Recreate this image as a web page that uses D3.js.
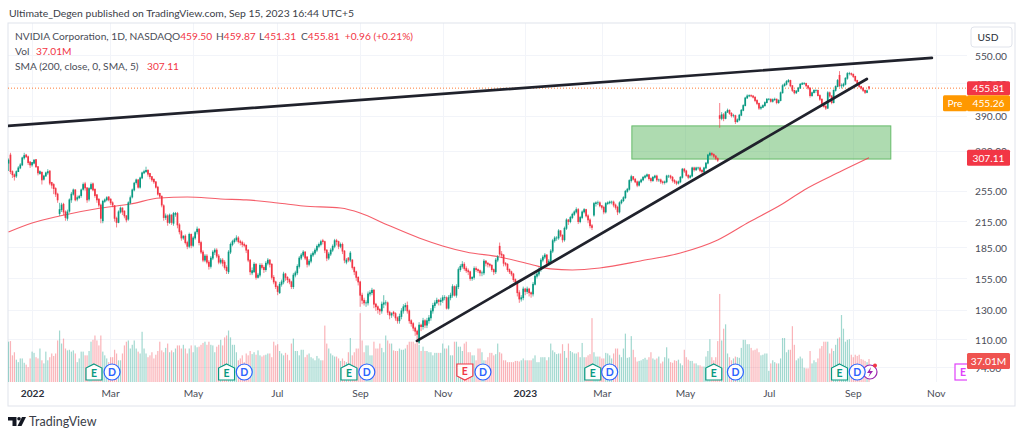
<!DOCTYPE html>
<html><head><meta charset="utf-8">
<script src="https://cdnjs.cloudflare.com/ajax/libs/d3/7.8.5/d3.min.js"></script>
<style>html,body{margin:0;padding:0;background:#fff}svg{display:block}text{font-family:Lato,sans-serif}</style>
</head><body><svg id="c" width="1024" height="437"></svg>
<script>
const opens=[
298,312,284,279,277,284,290,295,307,312,
309,300,295,298,304,292,281,283,272,277,
282,285,267,264,258,250,224,229,236,226,
218,227,242,250,256,243,245,248,257,265,
259,243,258,265,257,249,243,235,215,240,
242,246,243,238,234,218,213,226,231,227,
221,217,238,246,256,267,271,260,274,282,
284,286,281,276,272,268,260,251,247,234,
219,221,213,222,212,223,224,210,202,195,
197,190,186,199,187,195,202,205,190,180,
172,176,170,166,174,180,182,176,170,172,
170,165,161,180,188,191,193,195,191,190,
188,187,182,172,160,161,168,156,158,167,
165,163,169,172,168,156,152,148,143,150,
152,159,156,154,152,148,158,160,166,174,
177,180,175,168,171,177,179,182,186,188,
192,191,182,174,178,182,186,192,191,186,
188,181,170,174,172,172,165,161,156,152,
141,137,135,135,142,143,145,134,132,130,
129,134,135,135,128,126,128,127,124,122,
125,129,132,133,129,122,120,117,115,108,
119,118,122,119,122,124,129,133,135,137,
136,137,139,139,131,139,141,148,141,148,
163,166,168,164,162,161,155,156,164,163,
162,160,160,171,169,168,167,163,161,172,
186,178,177,169,168,163,161,159,154,152,
143,138,139,146,144,146,143,142,150,157,
159,163,172,175,177,169,171,181,192,195,
195,203,198,193,206,216,214,219,223,226,
229,214,219,226,229,221,216,209,222,237,
238,238,234,232,226,237,238,239,239,235,
232,226,238,241,245,254,257,270,276,272,
268,263,268,271,275,277,279,273,270,275,
277,271,271,268,267,268,277,277,275,270,
268,266,268,275,288,285,278,275,277,290,
287,290,290,286,284,290,298,312,315,313,
310,306,390,384,392,384,398,402,395,390,
390,377,381,391,402,413,431,436,437,436,
433,425,418,407,409,413,420,428,428,423,
427,428,420,425,444,462,466,473,476,462,
450,444,448,456,466,468,468,462,456,437,
444,450,450,437,428,418,411,407,444,436,
420,450,460,490,462,462,466,482,495,495,
493,487,476,468,460,456,450,445,459.50];
const closes=[
303,284,279,276,284,290,295,307,311,309,
299,295,299,303,292,282,284,271,277,282,
284,266,263,258,250,242,229,235,226,219,
226,242,250,256,242,245,247,256,264,259,
242,258,264,256,248,242,235,218,240,242,
245,242,238,235,218,213,226,231,226,221,
216,238,245,256,266,271,260,274,282,284,
286,280,276,271,268,260,250,247,235,219,
221,213,222,213,224,224,210,202,195,197,
190,186,199,187,195,201,205,190,180,172,
176,170,166,174,180,182,176,170,172,169,
165,162,180,188,191,193,195,191,190,188,
187,182,172,161,162,168,156,158,167,165,
163,169,172,168,156,152,148,144,150,152,
159,156,154,152,148,158,160,166,174,177,
180,174,168,171,177,179,182,186,188,191,
191,182,174,178,182,186,192,191,186,188,
181,172,172,172,179,165,161,156,152,141,
137,135,135,142,143,145,134,132,130,129,
134,135,135,128,126,127,127,124,122,125,
129,132,133,129,122,120,117,115,113,119,
118,122,119,122,124,129,133,135,137,136,
137,139,139,131,139,141,148,141,148,163,
166,168,164,162,161,155,156,164,163,162,
160,160,171,169,168,167,163,161,172,175,
178,177,169,168,163,161,159,154,152,143,
138,139,146,144,146,143,142,150,157,159,
163,172,175,177,169,171,181,192,195,195,
203,198,193,206,216,214,219,223,226,229,
214,219,226,229,221,216,209,207,237,238,
238,234,232,226,237,238,239,239,235,232,
226,238,241,245,254,257,270,276,272,268,
263,268,271,275,277,279,273,270,275,277,
271,271,268,267,268,277,277,275,270,268,
266,268,275,288,285,278,275,277,290,287,
290,290,286,284,290,298,312,315,313,310,
306,303,384,392,384,398,402,395,390,390,
377,381,391,402,413,431,436,437,436,433,
425,418,407,409,413,420,428,428,423,427,
428,420,425,444,462,466,473,476,462,450,
444,448,456,466,468,468,462,456,437,444,
450,450,437,428,418,411,407,444,436,420,
450,460,476,462,462,466,482,495,495,493,
487,476,468,460,456,450,445,449,455.81];
const highs=[
306,316,286,281,286,293,298,309,316,314,
311,301,300,305,305,293,286,284,279,284,
288,286,268,266,260,252,238,238,238,228,
229,244,253,258,257,248,249,258,267,268,
260,260,267,267,258,250,244,237,242,244,
247,247,244,240,235,220,228,233,232,228,
222,240,248,258,268,273,272,276,284,287,
292,288,282,277,273,269,262,252,248,236,
224,223,224,223,226,226,226,212,204,198,
199,192,201,200,197,203,208,206,192,182,
178,178,172,176,182,184,184,178,174,174,
172,167,182,190,193,195,198,197,193,192,
190,188,183,173,165,170,169,160,169,169,
167,171,174,173,169,158,153,149,152,154,
161,160,157,155,153,160,162,168,176,179,
182,181,176,173,179,181,184,188,190,193,
194,192,183,180,184,188,194,194,192,190,
190,182,174,175,181,173,166,162,157,153,
143,139,137,144,145,147,146,135,133,131,
136,141,137,136,129,128,129,128,125,127,
131,134,135,136,130,123,121,118,116,121,
120,124,123,124,126,131,135,137,139,138,
139,141,141,140,141,143,150,149,150,165,
168,171,170,166,164,162,157,166,166,164,
163,162,173,172,170,169,168,164,174,177,
190,181,178,170,169,164,162,160,155,153,
145,141,148,147,148,147,144,152,159,161,
165,174,177,179,178,173,183,194,197,197,
205,204,199,208,218,217,221,225,228,232,
231,221,228,231,230,223,218,211,239,240,
241,240,235,234,239,240,241,241,241,237,
234,240,243,247,256,259,272,279,277,274,
270,270,273,277,279,281,280,275,277,279,
279,273,273,270,270,279,279,279,277,272,
270,270,277,290,290,287,280,279,292,292,
292,292,292,288,292,300,314,318,317,315,
312,308,419,398,396,400,406,404,398,394,
392,384,394,405,416,434,440,440,440,438,
435,428,420,413,416,423,431,431,430,430,
432,430,428,447,466,470,477,480,478,464,
452,451,459,469,472,472,470,463,458,447,
453,453,452,440,430,420,415,448,447,438,
453,463,480,502,468,470,485,499,500,498,
495,489,478,470,462,458,452,452,459.87];
const lows=[
285,280,274,270,274,284,288,293,304,307,
295,290,292,296,290,278,279,264,270,276,
279,263,258,250,246,238,221,226,222,215,
215,225,238,248,240,240,243,245,255,255,
238,240,256,254,245,238,232,212,212,238,
240,240,235,232,214,207,212,224,222,218,
213,215,236,244,254,264,258,258,272,280,
282,276,272,268,265,258,248,244,232,215,
216,209,211,210,209,220,206,199,192,193,
188,183,184,184,185,193,199,187,178,170,
170,168,163,164,172,177,174,168,168,166,
163,159,159,178,186,189,191,189,187,185,
185,179,170,158,158,160,154,155,156,163,
160,161,167,165,154,150,146,141,142,148,
150,153,151,150,146,146,156,158,164,172,
175,172,165,166,169,175,177,180,184,186,
188,179,171,172,176,180,184,187,183,184,
178,169,168,170,170,163,158,153,149,132,
134,133,132,133,140,141,131,129,127,126,
127,131,133,126,123,124,125,122,120,120,
123,127,129,127,120,118,115,112,110,107,
115,116,117,117,120,122,127,131,134,133,
133,135,137,130,130,137,139,140,139,146,
161,164,162,160,158,153,153,154,161,160,
157,157,158,166,165,165,161,158,159,170,
176,174,166,166,161,159,157,152,150,140,
135,136,137,141,142,140,139,140,149,155,
157,161,170,173,167,167,169,179,190,192,
193,196,190,191,204,210,212,217,221,224,
211,212,217,224,219,212,206,204,220,233,
235,232,229,223,224,235,236,236,232,229,
222,224,236,239,243,252,255,267,270,266,
260,261,266,269,273,275,270,267,268,273,
268,268,265,264,264,266,274,272,267,265,
263,264,266,273,282,276,272,273,275,284,
285,287,283,281,282,288,296,310,310,307,
303,300,364,380,378,382,396,392,386,386,
372,375,378,389,400,411,429,433,433,430,
421,414,403,403,407,410,418,425,420,420,
424,416,417,423,442,460,463,470,458,446,
440,441,446,454,464,464,458,452,432,434,
444,444,435,424,414,408,403,405,432,416,
418,447,458,458,455,458,463,478,490,489,
483,472,464,456,452,446,441,443,451.31];
const volumes=[
65,66,43,48,36,32,38,38,31,28,
24,38,49,47,40,38,54,35,30,49,
35,40,46,42,46,67,83,62,70,54,
51,52,49,51,46,32,38,49,49,43,
43,50,65,68,75,67,59,75,49,43,
38,32,40,40,52,46,35,35,46,59,
65,67,54,60,67,54,49,46,81,54,
46,40,43,48,38,44,50,65,51,48,
55,62,48,51,48,54,59,59,54,60,
54,46,54,59,48,59,56,57,60,63,
65,60,65,60,59,48,57,60,68,59,
72,75,83,72,60,60,48,35,38,43,
32,46,43,50,45,48,44,51,43,41,
43,44,46,46,40,65,59,61,50,46,
43,47,44,35,62,70,50,50,43,52,
52,40,44,46,40,38,35,42,38,35,
35,91,62,54,46,43,41,41,38,34,
38,34,32,48,71,43,48,54,54,111,
67,48,59,59,43,43,65,54,54,62,
55,48,75,67,62,62,51,50,50,54,
52,52,54,60,65,65,65,62,67,60,
50,57,50,50,48,48,43,47,47,47,
47,62,54,54,59,43,43,65,65,57,
57,50,62,65,48,48,43,43,35,54,
54,48,35,35,40,47,47,43,45,62,
48,46,35,35,32,32,32,32,34,34,
33,35,38,35,35,35,35,38,43,32,
32,40,40,40,35,40,62,51,48,45,
46,46,61,50,39,62,50,48,46,46,
48,40,63,40,40,43,45,103,48,41,
41,41,38,38,47,46,43,38,46,54,
54,44,40,54,78,39,40,74,52,40,
33,34,35,37,39,36,40,48,38,36,
38,41,30,33,40,56,38,32,31,35,
34,36,30,27,52,40,36,34,34,30,
30,27,27,25,25,41,50,69,40,35,
40,66,142,67,86,93,46,40,35,38,
41,40,39,55,68,68,61,61,55,51,
52,54,48,43,44,46,46,18,30,35,
32,30,30,38,71,71,48,52,52,90,
60,35,38,41,38,23,22,22,50,30,
35,32,38,54,58,65,65,65,46,54,
50,60,70,72,108,86,65,68,69,44,
40,44,42,44,37,36,34,32,37.01];
const smaIdx=[0,12,26,47,62,77,91,108,121,137,150,169,179,193,209,221,233,250,267,276,287,301,321.6,342,361,377,393,405,423,438];
const smaVal=[201.8,212.3,220.8,231,236.4,244.6,246,243.2,242,237.8,233.8,231,224.7,209.9,195,186.4,180.1,175.1,167.3,163.7,162.7,164.5,171.2,179.1,192.8,213.5,235,256,283.4,307.11];
const priceTicks=[550,470,390,320,255,215,185,155,130,110,94];
const timeIdx=[12,51.7,93.9,136.6,178.9,221,262.8,302,344.3,387,429.8,472];
const timeLabels=["2022","Mar","May","Jul","Sep","Nov","2023","Mar","May","Jul","Sep","Nov"];
const trendUpperIdx=[-0.25,470], trendUpperPrice=[368,541];
const trendLowerIdx=[207.9,436.9], trendLowerPrice=[108.8,480];
const zoneIdx=[317.3,449.1], zonePrice=[368,305];
const earningsUp=[43.5,111,173.3,297.4,359,423], earningsDown=[232.3];
const dividends=[52.7,120,182.4,241.5,306,370,432];
const lastClose=455.81, prePrice=455.26, smaLast=307.11, lastVol=37.01;

const FONT="Lato,sans-serif", FS=10.2;
const UP="#089981", DN="#f23645", TXT="#4a4d57", GRID="#f2f4f9", BORD="#e0e3eb";
const L=8,R=967,T=23,B=382;
const svg=d3.select("#c");
const x=d3.scaleLinear().domain([0,438]).range([8.5,869]);
const y=d3.scaleLog().domain([550,110]).range([55,339]);
const v=d3.scaleLinear().domain([0,100]).range([382,320]);
const n=closes.length, idx=d3.range(n);

svg.append("defs").append("clipPath").attr("id","p").append("rect").attr("x",L).attr("y",T).attr("width",R-L).attr("height",B-T);

// grid
const g=svg.append("g").attr("stroke",GRID).attr("stroke-width",1);
g.selectAll("line.h").data(priceTicks).join("line").attr("x1",L).attr("x2",R).attr("y1",d=>Math.round(y(d))+.5).attr("y2",d=>Math.round(y(d))+.5);
g.selectAll("line.v").data(timeIdx).join("line").attr("y1",T).attr("y2",B).attr("x1",d=>Math.round(x(d))+.5).attr("x2",d=>Math.round(x(d))+.5);

// frame
svg.append("rect").attr("x",L).attr("y",T).attr("width",1015-L).attr("height",406-T).attr("fill","none").attr("stroke",BORD).attr("stroke-width",1);

const plot=svg.append("g").attr("clip-path","url(#p)");
// volume
plot.append("g").selectAll("rect").data(idx).join("rect")
 .attr("x",i=>x(i)-.6).attr("width",1.2).attr("y",i=>v(volumes[i])).attr("height",i=>v(0)-v(volumes[i]))
 .attr("fill",i=>closes[i]>=opens[i]?UP:DN).attr("opacity",.38);
// zone
plot.append("rect").attr("x",x(zoneIdx[0])).attr("width",x(zoneIdx[1])-x(zoneIdx[0])).attr("y",y(zonePrice[0])).attr("height",y(zonePrice[1])-y(zonePrice[0]))
 .attr("fill","#4caf50").attr("fill-opacity",.45).attr("stroke","#66bb6a").attr("stroke-width",1);
// price line
plot.append("line").attr("x1",L).attr("x2",R).attr("y1",y(lastClose)).attr("y2",y(lastClose)).attr("stroke","#ff7a33").attr("stroke-width",1).attr("stroke-dasharray","1 2");
// sma
plot.append("path").attr("fill","none").attr("stroke","#f23645").attr("stroke-opacity",.8).attr("stroke-width",1.1)
 .attr("d",d3.line().x((d,i)=>x(smaIdx[i])).y(d=>y(d)).curve(d3.curveMonotoneX)(smaVal));
// candles
const cg=plot.append("g");
cg.selectAll("line").data(idx).join("line").attr("x1",i=>x(i)).attr("x2",i=>x(i)).attr("y1",i=>y(highs[i])).attr("y2",i=>y(lows[i]))
 .attr("stroke",i=>closes[i]>=opens[i]?UP:DN).attr("stroke-width",.8).attr("stroke-opacity",.8);
cg.selectAll("rect").data(idx).join("rect").attr("x",i=>x(i)-.85).attr("width",1.7)
 .attr("y",i=>y(Math.max(opens[i],closes[i]))-.4).attr("height",i=>Math.abs(y(opens[i])-y(closes[i]))+.8)
 .attr("fill",i=>closes[i]>=opens[i]?UP:DN);
// trendlines
const tl=(a,b)=>plot.append("line").attr("x1",x(a[0])).attr("x2",x(a[1])).attr("y1",y(b[0])).attr("y2",y(b[1])).attr("stroke","#20222c").attr("stroke-width",2.7).attr("stroke-linecap","round");
tl(trendUpperIdx,trendUpperPrice); tl(trendLowerIdx,trendLowerPrice);

// badges
const bad=plot.append("g");
const badgeY=372;
function house(cx,down,col){
 const p=down?[[-8,-8],[8,-8],[8,4],[0,8],[-8,4]]:[[0,-8],[8,-4],[8,8],[-8,8],[-8,-4]];
 bad.append("path").attr("d","M"+p.map(q=>[cx+q[0],badgeY+q[1]].join(",")).join("L")+"Z").attr("fill","#fff").attr("fill-opacity",.92).attr("stroke",col).attr("stroke-width",1.2);
 bad.append("text").attr("x",cx).attr("y",badgeY+3.6+(down?-1:1)).attr("text-anchor","middle").attr("font-size",10.5).attr("font-weight",700).attr("fill",col).text("E");
}
earningsUp.forEach(i=>house(x(i),false,UP));
earningsDown.forEach(i=>house(x(i),true,DN));
// flash event
bad.append("circle").attr("cx",870).attr("cy",badgeY).attr("r",7).attr("fill","#fff").attr("stroke","#9c27b0").attr("stroke-width",1.2);
bad.append("path").attr("d","M871,367L867,373H870L868.5,377L873,371H870Z").attr("fill","#9c27b0");
dividends.forEach(i=>{
 bad.append("circle").attr("cx",x(i)).attr("cy",badgeY).attr("r",8).attr("fill","#fff").attr("fill-opacity",.92).attr("stroke","#2962ff").attr("stroke-width",1.2);
 bad.append("text").attr("x",x(i)).attr("y",badgeY+3.6).attr("text-anchor","middle").attr("font-size",10.5).attr("font-weight",700).attr("fill","#2962ff").text("D");
});
bad.append("circle").attr("cx",875).attr("cy",365.5).attr("r",2).attr("fill","#f23645");
bad.append("rect").attr("x",955).attr("y",364).attr("width",18).attr("height",16).attr("fill","#fff").attr("stroke","#e040fb").attr("stroke-width",1.2);
bad.append("text").attr("x",963).attr("y",375.6).attr("text-anchor","middle").attr("font-size",10.5).attr("font-weight",700).attr("fill","#e040fb").text("E");

// axes
const ya=d3.axisRight(y).tickValues(priceTicks).tickFormat(d=>d3.format(".2f")(d)).tickSize(0).tickPadding(0);
const yg=svg.append("g").attr("transform","translate(975,1)").call(ya);
yg.select(".domain").remove();
yg.selectAll("text").attr("font-size",FS).attr("fill",TXT).attr("font-family",FONT);
const xa=d3.axisBottom(x).tickValues(timeIdx).tickFormat((d,i)=>timeLabels[i]).tickSize(0).tickPadding(0);
const xg=svg.append("g").attr("transform","translate(0,390)").call(xa);
xg.select(".domain").remove();
xg.selectAll("text").attr("font-size",FS).attr("fill",(d,i)=>/^20/.test(timeLabels[i])?"#2a2e39":TXT).attr("font-weight",(d,i)=>/^20/.test(timeLabels[i])?700:400).attr("font-family",FONT);

// price labels
function tag(x0,w,y0,h,fill,t){
 svg.append("rect").attr("x",x0).attr("y",y0).attr("width",w).attr("height",h).attr("rx",1.5).attr("fill",fill);
 svg.append("text").attr("x",x0+w/2).attr("y",y0+h/2+3.7).attr("text-anchor","middle").attr("font-size",FS).attr("fill","#fff").text(t);
}
const usd=svg.append("g");
usd.append("rect").attr("x",971).attr("y",27).attr("width",41).attr("height",20).attr("rx",3).attr("fill","#fff").attr("stroke",BORD);
usd.append("text").attr("x",988).attr("y",41).attr("text-anchor","middle").attr("font-size",FS).attr("fill","#2a2e39").text("USD");
tag(967,43,y(lastClose)-7,14,"#f23645",lastClose.toFixed(2));
tag(943,24,y(lastClose)+7,16,"#ff9800","Pre");
tag(967,43,y(lastClose)+7,16,"#ff9800",prePrice.toFixed(2));
tag(967,43,y(smaLast)-8,16,"#f23645",smaLast.toFixed(2));
tag(967,43,v(lastVol)-6,16,"#ef5350",lastVol.toFixed(2)+"M");

// header
svg.append("text").attr("x",9).attr("y",16.5).attr("font-size",10.4).attr("fill","#3a3d47").text("Ultimate_Degen published on TradingView.com, Sep 15, 2023 16:44 UTC+5");
const lg=svg.append("text").attr("x",15).attr("y",40).attr("font-size",FS).attr("fill",TXT);
const RED="#f23645";
lg.append("tspan").text("NVIDIA Corporation, 1D, NASDAQ");
[["O","459.50",172],["H","459.87",216],["L","451.31",259],["C","455.81",301]].forEach(a=>{
 lg.append("tspan").attr("x",a[2]).text(a[0]);
 lg.append("tspan").attr("fill",RED).text(a[1]);
});
lg.append("tspan").attr("fill",RED).attr("dx",5).text("+0.96 (+0.21%)");
const l2=svg.append("text").attr("x",15).attr("y",55).attr("font-size",FS).attr("fill",TXT);
l2.append("tspan").text("Vol");
l2.append("tspan").attr("x",36).attr("fill",RED).text("37.01M");
const l3=svg.append("text").attr("x",15).attr("y",70).attr("font-size",FS).attr("fill",TXT);
l3.append("tspan").text("SMA (200, close, 0, SMA, 5)");
l3.append("tspan").attr("x",147).attr("fill",RED).text("307.11");

// footer
const f=svg.append("g").attr("fill","#131722");
f.append("path").attr("d","M8,417H16.5V426H12.5V420.5H8Z");
f.append("circle").attr("cx",19).attr("cy",418.8).attr("r",1.8);
f.append("path").attr("d","M22,417H26L21.5,426H17.5Z");
svg.append("text").attr("x",29).attr("y",426).attr("font-size",12.5).attr("fill","#3a3d47").text("TradingView");
</script></body></html>
